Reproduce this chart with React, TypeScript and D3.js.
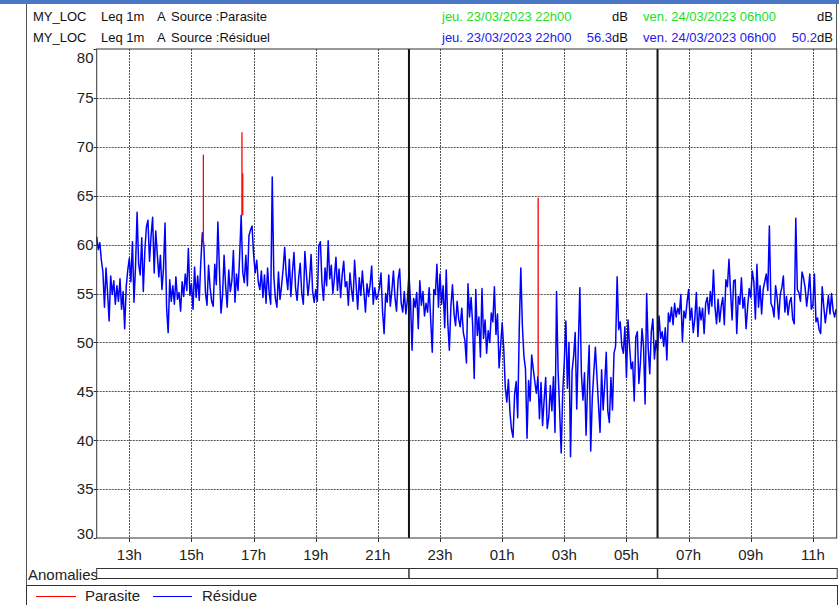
import React from "react";
import * as d3 from "d3";

const W = 839;
const H = 605;

// Leq 1m (A) residual level, one value every 3 minutes from 23/03/2023 11:57
const startTime = new Date(2023, 2, 23, 11, 57);
const endTime = new Date(2023, 2, 24, 11, 46);
const stepMinutes = 3;

const residuel: number[] = [
  // 11:57 - 12:57
  60.8, 59.5, 60.2, 58.4, 57.2, 53.6, 57.6, 55.1, 52.2, 56.8, 54.9, 56.3, 53.9, 55.8, 54.2, 56.5, 53.4, 55.2, 51.4, 55.7, 57.4,
  // 13h
  58.6, 56.2, 60.3, 54.1, 57.8, 63.3, 58.0, 56.9, 60.7, 55.2, 59.4, 61.8, 62.5, 58.3, 60.9, 62.8, 57.1, 61.4, 59.0, 56.7,
  // 14h
  58.9, 55.4, 57.6, 62.2, 53.5, 51.0, 56.4, 54.2, 55.8, 53.9, 56.7, 54.4, 55.1, 53.2, 56.2, 54.7, 57.0, 55.3, 59.6, 54.8,
  // 15h
  56.0, 53.4, 57.7, 54.6, 56.8, 54.3, 58.2, 61.2, 59.9, 55.1, 53.8, 57.9, 55.6, 54.2, 53.7, 58.0, 55.9, 62.3, 57.4, 53.0,
  // 16h
  54.8, 58.9, 55.7, 53.6, 57.4, 55.2, 56.3, 59.4, 54.1, 57.0, 55.3, 58.8, 63.0, 57.2, 56.1, 58.9, 55.8, 60.9, 61.5, 61.9,
  // 17h
  59.0, 57.1, 58.4, 56.2, 55.4, 57.3, 54.6, 56.9, 54.0, 57.6, 55.1, 53.9, 66.9, 56.8, 54.5, 53.6, 57.2, 54.4, 55.8, 57.5,
  // 18h
  59.7, 56.9, 55.4, 58.5, 54.7, 57.2, 59.2, 55.6, 54.3, 56.6, 58.1, 55.0, 53.9, 59.3, 57.0, 54.8, 56.4, 59.0, 55.2, 54.1,
  // 19h
  55.4, 54.2, 59.9, 60.3, 56.1, 54.3, 57.6, 55.8, 60.4, 56.5, 57.9, 55.0, 56.6, 58.7, 55.3, 57.5, 54.6, 56.9, 58.3, 55.7,
  // 20h
  56.2, 53.8, 57.1, 55.4, 54.2, 58.4, 55.9, 53.4, 56.6, 54.8, 57.3, 55.2, 53.1, 56.0, 54.7, 55.9, 57.8, 53.9, 55.6, 54.4,
  // 21h
  54.8, 55.6, 57.1, 53.2, 50.9, 55.0, 54.1, 56.9, 53.7, 55.3, 57.3, 54.6, 53.2, 56.4, 57.5, 54.0, 53.1, 55.2, 52.9, 54.4,
  // 22h
  57.0, 54.2, 49.2, 54.5, 53.6, 55.1, 51.4, 56.3, 53.8, 55.2, 52.7, 54.0, 53.1, 55.6, 52.3, 49.0, 55.4, 54.9, 58.0, 53.6,
  // 23h
  57.0, 53.9, 55.8, 51.5, 57.4, 52.0, 49.2, 53.7, 55.9, 53.0, 51.7, 54.2, 52.4, 51.6, 53.5, 51.0, 50.2, 47.9, 56.0, 52.6,
  // 00h
  54.6, 51.8, 46.3, 55.4, 50.7, 52.6, 48.5, 55.5, 50.4, 52.3, 48.9, 51.2, 50.0, 53.0, 52.1, 55.7, 50.8, 52.9, 47.4, 49.6,
  // 01h
  52.0, 49.4, 45.4, 43.9, 46.2, 42.9, 41.1, 40.3, 44.7, 46.0, 42.3, 51.4, 57.6, 51.7, 48.6, 47.3, 40.2, 46.1, 44.0, 48.7,
  // 02h
  47.3, 46.0, 44.8, 46.5, 42.2, 45.9, 41.5, 44.1, 46.4, 41.2, 42.3, 45.6, 43.0, 46.5, 40.8, 55.2, 47.1, 43.0, 38.7, 45.0,
  // 03h
  48.1, 52.2, 45.3, 50.0, 38.3, 47.1, 48.6, 51.0, 43.2, 49.5, 55.6, 46.8, 44.1, 46.9, 40.5, 45.8, 49.7, 38.9, 44.3, 47.0,
  // 04h
  49.5, 46.5, 43.6, 40.8, 47.2, 43.1, 45.8, 49.0, 43.0, 41.8, 46.4, 43.1, 48.9, 49.6, 56.7, 51.3, 52.1, 49.6, 48.9, 51.6,
  // 05h
  46.4, 52.3, 49.6, 47.3, 48.0, 44.0, 50.5, 51.1, 45.8, 47.9, 51.4, 49.6, 43.7, 55.0, 49.4, 46.8, 51.1, 52.4, 48.3, 50.2,
  // 06h
  49.2, 52.7, 50.4, 51.1, 49.6, 51.5, 48.2, 53.0, 52.1, 53.6, 51.8, 54.0, 52.6, 53.5, 52.9, 54.9, 50.1, 53.2, 52.5, 54.1,
  // 07h
  55.4, 52.3, 53.5, 51.0, 52.4, 55.1, 50.6, 53.6, 52.3, 53.5, 50.9, 54.0, 54.6, 52.9, 55.2, 53.7, 57.4, 53.6, 51.9, 54.4,
  // 08h
  52.1, 53.7, 54.6, 51.8, 56.4, 55.7, 58.5, 55.2, 52.3, 56.3, 56.4, 50.9, 54.7, 53.9, 56.6, 53.5, 54.6, 51.4, 53.6, 55.5,
  // 09h
  54.6, 57.3, 56.2, 52.4, 58.0, 53.6, 55.8, 52.9, 55.4, 56.2, 57.0, 55.3, 61.9, 54.0, 53.6, 52.6, 55.8, 54.6, 52.4, 54.9,
  // 10h
  55.6, 56.8, 53.1, 54.7, 52.8, 54.1, 54.6, 52.4, 51.9, 62.7, 55.4, 55.1, 54.2, 57.2, 56.6, 55.6, 53.7, 55.1, 57.0, 53.4,
  // 11h
  53.8, 57.0, 52.1, 52.5, 51.3, 50.9, 55.7, 53.7, 52.0, 53.3, 54.8, 52.9, 55.0, 53.3, 52.6, 53.4,
];

// Parasite events: time, level reached, level of the residual underneath
const parasiteTimes = [
  new Date(2023, 2, 23, 15, 23),
  new Date(2023, 2, 23, 16, 37, 30),
  new Date(2023, 2, 23, 16, 39),
  new Date(2023, 2, 24, 2, 9, 30),
];
const parasitePeaks = [69.2, 71.5, 67.3, 64.8];
const parasiteBases = [59.8, 63.0, 63.0, 46.5];

const yTicks = [30, 35, 40, 45, 50, 55, 60, 65, 70, 75, 80];
const xTickDates = [13, 15, 17, 19, 21, 23, 25, 27, 29, 31, 33, 35].map(
  (h) => new Date(2023, 2, 23, h, 0)
);
const periodMarks = [new Date(2023, 2, 23, 22, 0), new Date(2023, 2, 24, 6, 0)];

const FONT = "Liberation Sans, Arial, sans-serif";
const GREEN = "#22e022";
const BLUE = "#2020f0";

export default function App() {
  const left = 96.7;
  const right = 836.7;
  const top = 49;
  const bottom = 538;

  const x = d3.scaleTime().domain([startTime, endTime]).range([left, right]);
  const y = d3.scaleLinear().domain([30, 80]).range([bottom, top]);

  const series = residuel.map((v, i) => ({
    t: new Date(startTime.getTime() + i * stepMinutes * 60000),
    v,
  }));

  const line = d3
    .line<{ t: Date; v: number }>()
    .x((d) => x(d.t))
    .y((d) => y(d.v));

  const hourLabel = (d: Date) => String(d.getHours()).padStart(2, "0") + "h";

  return (
    <svg
      width={W}
      height={H}
      style={{ position: "absolute", left: 0, top: 0, display: "block" }}
      fontFamily={FONT}
    >
      <rect x={0} y={0} width={W} height={H} fill="#ffffff" />
      {/* title band */}
      <rect x={0} y={0} width={W} height={4} fill="#4a76c6" />
      <line x1={26.5} x2={26.5} y1={4} y2={H} stroke="#555" strokeWidth={1} />
      <line x1={836.5} x2={836.5} y1={4} y2={top} stroke="#555" strokeWidth={1} />

      {/* header rows */}
      <g fontSize={13} fill="#111">
        <text x={33} y={21}>MY_LOC</text>
        <text x={101} y={21}>Leq 1m</text>
        <text x={157} y={21}>A</text>
        <text x={171} y={21}>Source :Parasite</text>
        <text x={33} y={42}>MY_LOC</text>
        <text x={101} y={42}>Leq 1m</text>
        <text x={157} y={42}>A</text>
        <text x={171} y={42}>Source :Résiduel</text>

        <text x={442} y={21} fill={GREEN}>jeu. 23/03/2023 22h00</text>
        <text x={628} y={21} textAnchor="end">dB</text>
        <text x={643} y={21} fill={GREEN}>ven. 24/03/2023 06h00</text>
        <text x={833} y={21} textAnchor="end">dB</text>

        <text x={442} y={42} fill={BLUE}>jeu. 23/03/2023 22h00</text>
        <text x={628} y={42} textAnchor="end">
          <tspan fill={BLUE}>56.3</tspan>
          <tspan>dB</tspan>
        </text>
        <text x={643} y={42} fill={BLUE}>ven. 24/03/2023 06h00</text>
        <text x={833} y={42} textAnchor="end">
          <tspan fill={BLUE}>50.2</tspan>
          <tspan>dB</tspan>
        </text>
      </g>

      {/* grid */}
      <g stroke="#555" strokeWidth={1} strokeDasharray="2,1">
        {yTicks
          .filter((v) => v > 30 && v < 80)
          .map((v) => (
            <line key={"gy" + v} x1={left} x2={right} y1={Math.round(y(v)) + 0.5} y2={Math.round(y(v)) + 0.5} />
          ))}
        {xTickDates.map((d, i) => (
          <line key={"gx" + i} x1={Math.round(x(d)) + 0.5} x2={Math.round(x(d)) + 0.5} y1={top} y2={bottom} />
        ))}
      </g>

      {/* residual level */}
      <path d={line(series) || ""} fill="none" stroke="#0000ff" strokeWidth={1.5} strokeLinejoin="round" />

      {/* parasite events */}
      <g stroke="#ff0000" strokeWidth={1.3}>
        {parasiteTimes.map((t, i) => (
          <line key={"p" + i} x1={x(t)} x2={x(t)} y1={y(parasiteBases[i])} y2={y(parasitePeaks[i])} />
        ))}
      </g>

      {/* period markers */}
      {periodMarks.map((d, i) => (
        <line key={"pm" + i} x1={x(d)} x2={x(d)} y1={top} y2={bottom} stroke="#111" strokeWidth={2} />
      ))}

      {/* frame */}
      <rect x={left} y={top} width={right - left} height={bottom - top} fill="none" stroke="#333" strokeWidth={1} />

      {/* y axis */}
      <g fontSize={15} fill="#222">
        {yTicks.map((v) => {
          const ty = y(v);
          const base = Math.min(Math.max(ty + 5.3, top + 14), bottom + 0.5);
          return (
            <g key={"yt" + v}>
              <line x1={left - 3} x2={left} y1={Math.round(ty) + 0.5} y2={Math.round(ty) + 0.5} stroke="#333" />
              <text x={93.5} y={base} textAnchor="end">{v}</text>
            </g>
          );
        })}
      </g>

      {/* x axis */}
      <g fontSize={15} fill="#222">
        {xTickDates.map((d, i) => (
          <g key={"xt" + i}>
            <line x1={Math.round(x(d)) + 0.5} x2={Math.round(x(d)) + 0.5} y1={bottom} y2={bottom + 4} stroke="#333" />
            <text x={x(d)} y={560} textAnchor="middle">{hourLabel(d)}</text>
          </g>
        ))}
      </g>

      {/* anomalies strip */}
      <text x={28} y={580} fontSize={15} fill="#222">Anomalies</text>
      <rect x={left} y={568.5} width={right - left + 0.5} height={10} fill="#fff" stroke="#333" strokeWidth={1} />
      {periodMarks.map((d, i) => (
        <line key={"am" + i} x1={x(d)} x2={x(d)} y1={568.5} y2={578.5} stroke="#333" strokeWidth={1.5} />
      ))}

      {/* legend */}
      <rect x={26.5} y={585.5} width={811} height={30} fill="#fff" stroke="#333" strokeWidth={1} />
      <line x1={36} x2={76} y1={596.5} y2={596.5} stroke="#ff0000" strokeWidth={1.2} />
      <text x={85} y={601} fontSize={15} fill="#222">Parasite</text>
      <line x1={153} x2={192} y1={596.5} y2={596.5} stroke="#0000ff" strokeWidth={1.2} />
      <text x={202} y={601} fontSize={15} fill="#222">Résidue</text>
    </svg>
  );
}
